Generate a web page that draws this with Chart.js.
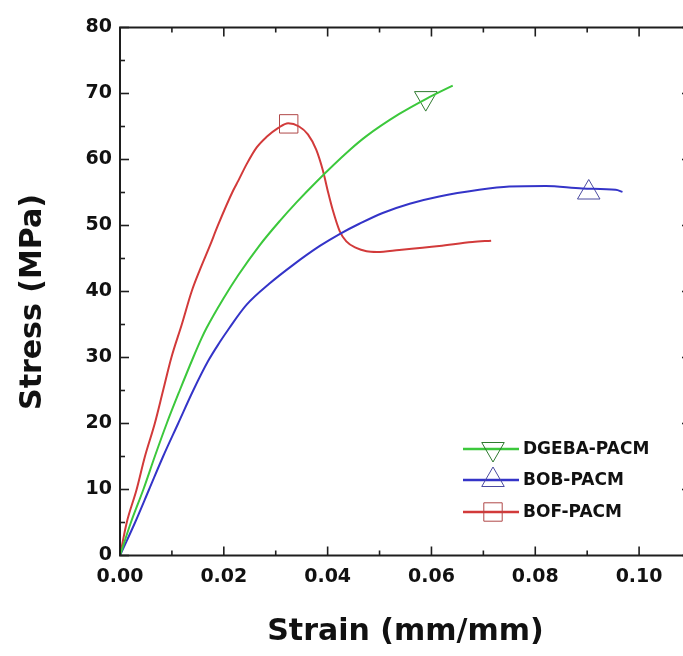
<!DOCTYPE html>
<html>
<head>
<meta charset="utf-8">
<script src="https://cdn.jsdelivr.net/npm/chart.js@4.4.1/dist/chart.umd.min.js"></script>
<style>
  html, body { margin: 0; padding: 0; background: #fff; overflow: hidden; }
  #wrap { width: 700px; height: 656px; }
</style>
</head>
<body>
<div id="wrap"><canvas id="stressChart" width="700" height="656"></canvas></div>
<script>
// tensile curves, strain (mm/mm) vs stress (MPa)
const strainDGEBA = [0, 0.0021, 0.0045, 0.0067, 0.009, 0.0115, 0.0141, 0.0157, 0.0167, 0.0199, 0.0228, 0.0269, 0.0308, 0.034, 0.0378, 0.0442, 0.0474, 0.0538, 0.059, 0.0641];
const stressDGEBA = [0, 5, 10, 15, 20, 25, 30, 32.9, 34.5, 38.9, 42.5, 47.0, 50.7, 53.5, 56.6, 61.4, 63.5, 66.9, 69.2, 71.2];

const strainBOB = [0, 0.0029, 0.0056, 0.0083, 0.0112, 0.0141, 0.017, 0.0192, 0.021, 0.0244, 0.0288, 0.0333, 0.0385, 0.0423, 0.0462, 0.0506, 0.0558, 0.0615, 0.0692, 0.075, 0.082, 0.0891, 0.0955, 0.0968];
const stressBOB = [0, 5, 10, 15, 20, 25, 29.5, 32.3, 34.4, 38.0, 41.2, 44.0, 46.9, 48.7, 50.3, 51.9, 53.3, 54.4, 55.4, 55.9, 56.0, 55.6, 55.4, 55.1];

const strainBOF = [0, 0.0013, 0.0032, 0.0048, 0.0067, 0.0083, 0.0099, 0.0119, 0.0138, 0.0154, 0.0173, 0.0188, 0.0218, 0.0228, 0.0244, 0.0263, 0.0282, 0.0305, 0.0324, 0.0345, 0.0362, 0.0378, 0.0391, 0.0401, 0.041, 0.0423, 0.0436, 0.0455, 0.0475, 0.0495, 0.0538, 0.0615, 0.0679, 0.0715];
const stressBOF = [0, 5, 10, 15, 20, 25, 30, 35, 40, 43.3, 46.9, 49.9, 55.3, 56.8, 59.3, 61.8, 63.4, 64.8, 65.5, 65.0, 63.8, 61.5, 58.3, 55.0, 52.3, 49.2, 47.6, 46.6, 46.1, 46.0, 46.3, 46.9, 47.5, 47.7];

// one symbol per curve
const markDGEBA = { x: 0.0589, y: 69.3 };
const markBOB = { x: 0.0903, y: 55.0 };
const markBOF = { x: 0.0325, y: 65.4 };

const seriesNames = ["DGEBA-PACM", "BOB-PACM", "BOF-PACM"];
const lineColors = ["#3cc83c", "#3434c8", "#d23a3a"];
const markColors = ["#2f7a2f", "#4a4aa0", "#b04848"];
const markStyles = ["triangle", "triangle", "rect"];
const markRotation = [180, 0, 0];

const strainMajor = [0, 0.02, 0.04, 0.06, 0.08, 0.10];
const strainMinor = [0.01, 0.03, 0.05, 0.07, 0.09];
const stressMajor = [0, 10, 20, 30, 40, 50, 60, 70, 80];
const stressMinor = [5, 15, 25, 35, 45, 55, 65, 75];

const toXY = (xs, ys) => xs.map((x, i) => ({ x: x, y: ys[i] }));
const curves = [toXY(strainDGEBA, stressDGEBA), toXY(strainBOB, stressBOB), toXY(strainBOF, stressBOF)];
const marks = [markDGEBA, markBOB, markBOF];

const MARK_R = 13;

function drawMark(ctx, i, x, y) {
    ctx.save();
    ctx.strokeStyle = markColors[i];
    ctx.fillStyle = "rgba(0,0,0,0)";
    ctx.lineWidth = 1;
    Chart.helpers.drawPoint(ctx, { pointStyle: markStyles[i], rotation: markRotation[i], radius: MARK_R, borderWidth: 1 }, x, y);
    ctx.restore();
}

// boxed frame with inward ticks on all four sides
const frame = {
    id: "frame",
    afterDatasetsDraw(chart) {
        const { ctx, chartArea: a, scales: { x, y } } = chart;
        ctx.save();
        ctx.strokeStyle = "#1e1e1e";
        const seg = (x0, y0, x1, y1) => { ctx.beginPath(); ctx.moveTo(x0, y0); ctx.lineTo(x1, y1); ctx.stroke(); };
        ctx.lineWidth = 1.6;
        strainMajor.forEach(v => { const p = x.getPixelForValue(v); seg(p, a.bottom, p, a.bottom - 9); seg(p, a.top, p, a.top + 9); });
        strainMinor.forEach(v => { const p = x.getPixelForValue(v); seg(p, a.bottom, p, a.bottom - 5); seg(p, a.top, p, a.top + 5); });
        stressMajor.forEach(v => { const p = y.getPixelForValue(v); seg(a.left, p, a.left + 9, p); seg(a.right, p, a.right - 9, p); });
        stressMinor.forEach(v => { const p = y.getPixelForValue(v); seg(a.left, p, a.left + 5, p); seg(a.right, p, a.right - 5, p); });
        ctx.lineWidth = 2;
        ctx.strokeRect(a.left, a.top, a.right - a.left, a.bottom - a.top);
        ctx.restore();
    }
};

// y title sits a little below the middle of the axis
const stressTitle = {
    id: "stressTitle",
    afterDraw(chart) {
        const ctx = chart.ctx;
        ctx.save();
        ctx.translate(33, 302);
        ctx.rotate(-Math.PI / 2);
        ctx.font = "bold 30px 'DejaVu Sans'";
        ctx.textAlign = "center";
        ctx.textBaseline = "middle";
        ctx.fillStyle = "#111";
        ctx.fillText("Stress (MPa)", 0, 0);
        ctx.restore();
    }
};

// legend: short line, symbol on top, bold name
const lineLegend = {
    id: "lineLegend",
    afterDraw(chart) {
        const ctx = chart.ctx;
        const x0 = 463, x1 = 519, tx = 523;
        const rows = [449, 480, 512];
        ctx.save();
        ctx.font = "bold 17px 'DejaVu Sans'";
        ctx.textBaseline = "middle";
        ctx.fillStyle = "#111";
        seriesNames.forEach((name, i) => {
            const yy = rows[i];
            ctx.strokeStyle = lineColors[i];
            ctx.lineWidth = 2.5;
            ctx.beginPath(); ctx.moveTo(x0, yy); ctx.lineTo(x1, yy); ctx.stroke();
            drawMark(ctx, i, (x0 + x1) / 2 + 2, yy);
            ctx.fillText(name, tx, yy + 1);
        });
        ctx.restore();
    }
};

const datasets = [];
curves.forEach((pts, i) => {
    datasets.push({ type: "line", label: seriesNames[i], data: pts, borderColor: lineColors[i], borderWidth: 2, pointRadius: 0,
        cubicInterpolationMode: "monotone", fill: false });
});
marks.forEach((m, i) => {
    datasets.push({ type: "scatter", label: seriesNames[i] + " mark", data: [m], pointStyle: markStyles[i], rotation: markRotation[i],
        pointRadius: MARK_R, borderColor: markColors[i], borderWidth: 1, backgroundColor: "rgba(0,0,0,0)", clip: false });
});

const tickFont = { family: "'DejaVu Sans'", size: 19, weight: "bold" };
const titleFont = { family: "'DejaVu Sans'", size: 30, weight: "bold" };

// canvas is a bit wider than the window so the 0.11 edge of the frame falls just off screen
new Chart(document.getElementById("stressChart"), {
    type: "line",
    data: { datasets: datasets },
    options: {
        responsive: false, animation: false,
        layout: { autoPadding: false, padding: { top: 27.5, right: 9, left: 0, bottom: 0 } },
        plugins: { legend: { display: false }, tooltip: { enabled: false } },
        scales: {
            x: {
                type: "linear", min: 0, max: 0.11,
                grid: { display: false, drawTicks: false }, border: { display: false },
                ticks: { stepSize: 0.02, includeBounds: false, padding: 10, color: "#111", font: tickFont, callback: v => v.toFixed(2) },
                title: { display: true, text: "Strain (mm/mm)", color: "#111", font: titleFont, padding: { bottom: 6 } },
                afterFit: s => { s.height = 100.5; s.paddingLeft = 0; s.paddingRight = 0; }
            },
            y: {
                type: "linear", min: 0, max: 80,
                grid: { display: false, drawTicks: false }, border: { display: false },
                ticks: { stepSize: 10, padding: 8, color: "#111", font: tickFont },
                title: { display: false },
                afterFit: s => { s.width = 120; s.paddingTop = 0; s.paddingBottom = 0; }
            }
        }
    },
    plugins: [frame, stressTitle, lineLegend]
});
</script>
</body>
</html>
